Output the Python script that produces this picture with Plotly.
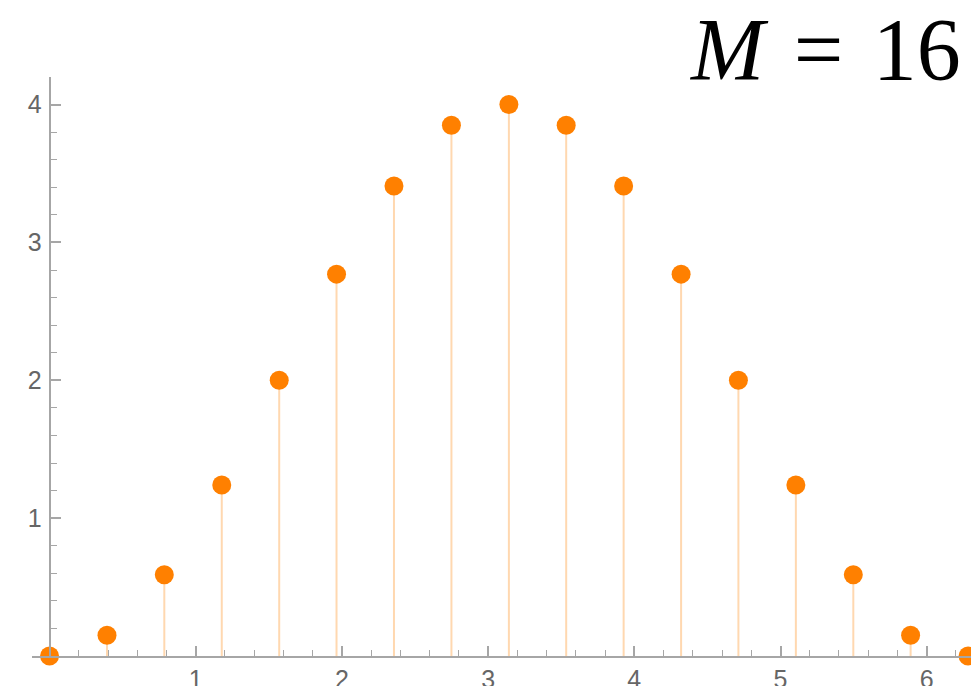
import plotly.graph_objects as go

x_vals = [0.0, 0.393, 0.785, 1.178, 1.571, 1.963, 2.356, 2.749, 3.142,
          3.534, 3.927, 4.320, 4.712, 5.105, 5.498, 5.890, 6.283]
y_vals = [0.0, 0.15, 0.59, 1.24, 2.0, 2.77, 3.41, 3.85, 4.0,
          3.85, 3.41, 2.77, 2.0, 1.24, 0.59, 0.15, 0.0]
x_ticks = [1, 2, 3, 4, 5, 6]
y_ticks = [1, 2, 3, 4]
title_text = "<i>M</i>\u200a = \u200a16"

W, H = 971, 686
ml, mr, mt, mb = 32, 0, 77, 30
x_range = [-0.12, 6.303]
y_range = [0, 4.2]

fig = go.Figure()
fig.add_trace(go.Scatter(
    x=x_vals, y=y_vals, mode="markers",
    marker=dict(color="#FF8000", size=19, line=dict(width=0)),
    error_y=dict(type="data", symmetric=False, array=[0] * len(y_vals),
                 arrayminus=y_vals, color="#FFD8B0", thickness=2, width=0),
    cliponaxis=False, showlegend=False, hoverinfo="skip",
))

axis_color = "#A6A6A6"
tick_font = dict(family="Liberation Sans, Arial, sans-serif", size=25, color="#666666")
pos = (0 - x_range[0]) / (x_range[1] - x_range[0])

fig.update_layout(
    width=W, height=H,
    margin=dict(l=ml, r=mr, t=mt, b=mb),
    paper_bgcolor="white", plot_bgcolor="white",
    xaxis=dict(range=x_range, showgrid=False, zeroline=False,
               showline=True, linecolor=axis_color, linewidth=2,
               ticks="inside", ticklen=10, tickwidth=1.5, tickcolor=axis_color,
               tickvals=x_ticks, ticktext=[str(v) for v in x_ticks],
               tickfont=tick_font, automargin=False,
               minor=dict(dtick=0.2, tick0=0, ticks="inside", ticklen=6,
                          tickwidth=1.2, tickcolor=axis_color, showgrid=False)),
    yaxis=dict(range=y_range, showgrid=False, zeroline=False,
               anchor="free", position=pos, automargin=False,
               showline=True, linecolor=axis_color, linewidth=2,
               ticks="inside", ticklen=10, tickwidth=1.5, tickcolor=axis_color,
               tickvals=y_ticks, ticktext=[str(v) for v in y_ticks],
               tickfont=tick_font, ticklabelstandoff=2,
               minor=dict(dtick=0.2, tick0=0, ticks="inside", ticklen=6,
                          tickwidth=1.2, tickcolor=axis_color, showgrid=False)),
    annotations=[dict(
        text=title_text, xref="paper", yref="paper",
        x=(963 - ml) / (W - ml - mr), y=1 + (mt - 100) / (H - mt - mb),
        xanchor="right", yanchor="bottom", showarrow=False,
        font=dict(family="Liberation Serif, Times New Roman, serif", size=88, color="black"),
    )],
)

fig.write_html("out.html", config={"displayModeBar": False},
               post_script="document.body.style.margin='0';document.documentElement.style.margin='0';")
